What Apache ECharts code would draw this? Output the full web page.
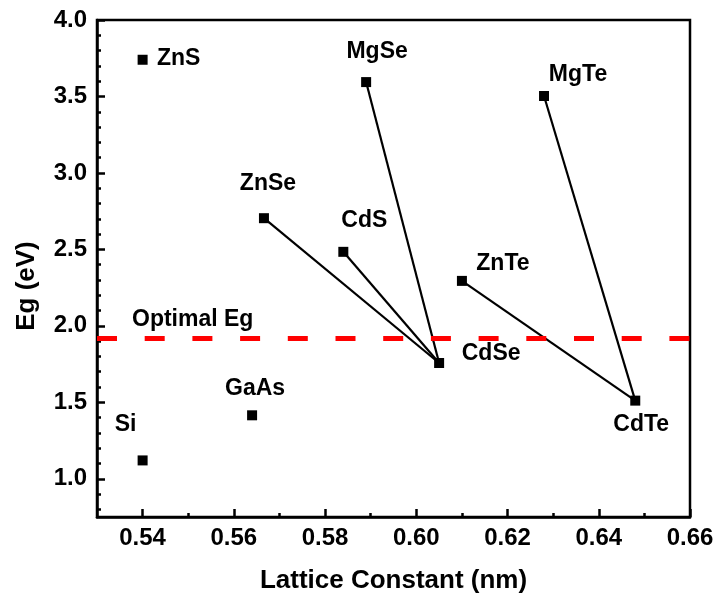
<!DOCTYPE html>
<html><head><meta charset="utf-8">
<script src="https://cdn.jsdelivr.net/npm/echarts@6/dist/echarts.min.js"></script>
<style>html,body{margin:0;padding:0;background:#fff}#c{width:717px;height:601px}</style>
</head><body><div id="c"></div>
<script>
// ---- data ----
const materials = ['ZnS', 'Si', 'GaAs', 'MgSe', 'ZnSe', 'CdS', 'CdSe', 'ZnTe', 'CdTe', 'MgTe'];
const latticeConstants = [0.540, 0.540, 0.564, 0.589, 0.5666, 0.584, 0.605, 0.610, 0.648, 0.628];
const bandGaps = [3.74, 1.12, 1.415, 3.594, 2.704, 2.484, 1.757, 2.294, 1.511, 3.503];
const tieLines = [['ZnSe', 'CdSe'], ['CdS', 'CdSe'], ['MgSe', 'CdSe'], ['ZnTe', 'CdTe'], ['MgTe', 'CdTe']];
const optimalEg = 1.917;
const optimalLabel = 'Optimal Eg';
const xMajorTicks = [0.54, 0.56, 0.58, 0.60, 0.62, 0.64, 0.66];
const xMinorTicks = [0.55, 0.57, 0.59, 0.61, 0.63, 0.65];
const yMajorTicks = [1.0, 1.5, 2.0, 2.5, 3.0, 3.5, 4.0];
const yMinorTicks = [0.8, 0.9, 1.1, 1.2, 1.3, 1.4, 1.6, 1.7, 1.8, 1.9, 2.1, 2.2, 2.3, 2.4, 2.6, 2.7, 2.8, 2.9, 3.1, 3.2, 3.3, 3.4, 3.6, 3.7, 3.8, 3.9];
const xTitle = 'Lattice Constant (nm)';
const yTitle = 'Eg (eV)';

// ---- style (label placement relative to marker) ----
const labelOffsets = {
  ZnS: [36, -1], Si: [-17, -36], GaAs: [3, -27], MgSe: [11, -30], ZnSe: [4, -35],
  CdS: [21, -31], CdSe: [52, -9], ZnTe: [41, -17], CdTe: [6, 24], MgTe: [34, -21]
};
const FONT = '"Liberation Sans", Arial, sans-serif';
const X_MIN = 0.53, X_MAX = 0.66, Y_MIN = 0.75, Y_MAX = 4.0;

const idx = n => materials.indexOf(n);
const pointData = materials.map((n, i) => ({
  name: n,
  value: [latticeConstants[i], bandGaps[i]],
  label: { offset: labelOffsets[n] }
}));

const lineSeries = tieLines.map(([a, b]) => ({
  type: 'line',
  xAxisIndex: 0, yAxisIndex: 0,
  data: [[latticeConstants[idx(a)], bandGaps[idx(a)]], [latticeConstants[idx(b)], bandGaps[idx(b)]]],
  symbol: 'none',
  lineStyle: { color: '#000', width: 2.2, opacity: 1 },
  z: 3,
  silent: true,
  animation: false
}));

const chart = echarts.init(document.getElementById('c'), null, { renderer: 'canvas' });
chart.setOption({
  animation: false,
  backgroundColor: '#fff',
  textStyle: { fontFamily: FONT },
  grid: { left: 97, right: 27, top: 20, bottom: 84, show: true, borderColor: '#000', borderWidth: 2.5, containLabel: false },
  xAxis: [{
    type: 'value', min: X_MIN, max: X_MAX, position: 'bottom',
    name: xTitle, nameLocation: 'middle', nameGap: 51,
    nameTextStyle: { fontSize: 26, fontWeight: 'bold', color: '#000', fontFamily: FONT },
    axisLine: { show: true, onZero: false, lineStyle: { color: '#000', width: 2.5 } },
    axisTick: { show: true, inside: true, length: 8, customValues: xMajorTicks, lineStyle: { color: '#000', width: 2.5 } },
    axisLabel: { show: true, customValues: xMajorTicks, margin: 9, fontSize: 24, fontWeight: 'bold', color: '#000', fontFamily: FONT,
      formatter: v => v.toFixed(2) },
    splitLine: { show: false }
  }, {
    type: 'value', min: X_MIN, max: X_MAX, position: 'bottom',
    axisLine: { show: false, onZero: false },
    axisTick: { show: true, inside: true, length: 4, customValues: xMinorTicks, lineStyle: { color: '#000', width: 2.5 } },
    axisLabel: { show: false },
    splitLine: { show: false }
  }],
  yAxis: [{
    type: 'value', min: Y_MIN, max: Y_MAX, position: 'left',
    name: yTitle, nameLocation: 'middle', nameGap: 57,
    nameTextStyle: { fontSize: 26, fontWeight: 'bold', color: '#000', fontFamily: FONT, padding: [0, 35, 0, 0] },
    axisLine: { show: true, onZero: false, lineStyle: { color: '#000', width: 2.5 } },
    axisTick: { show: true, inside: true, length: 8, customValues: yMajorTicks, lineStyle: { color: '#000', width: 2.5 } },
    axisLabel: { show: true, customValues: yMajorTicks, margin: 10, fontSize: 24, fontWeight: 'bold', color: '#000', fontFamily: FONT,
      formatter: v => v.toFixed(1) },
    splitLine: { show: false }
  }, {
    type: 'value', min: Y_MIN, max: Y_MAX, position: 'left',
    axisLine: { show: false, onZero: false },
    axisTick: { show: true, inside: true, length: 4, customValues: yMinorTicks, lineStyle: { color: '#000', width: 2.5 } },
    axisLabel: { show: false },
    splitLine: { show: false }
  }],
  series: [
    ...lineSeries,
    {
      type: 'scatter',
      xAxisIndex: 0, yAxisIndex: 0,
      symbol: 'rect',
      symbolSize: 10,
      itemStyle: { color: '#000', opacity: 1 },
      z: 5,
      data: pointData,
      label: {
        show: true, position: 'inside', formatter: '{b}',
        align: 'center', verticalAlign: 'middle', opacity: 1,
        color: '#000', fontSize: 23, fontWeight: 'bold', fontFamily: FONT
      },
      markLine: {
        silent: true,
        symbol: ['none', 'none'],
        animation: false,
        data: [{ yAxis: optimalEg }],
        lineStyle: { color: '#ff0000', width: 5, type: [20, 27.7], opacity: 1 },
        label: {
          show: true, formatter: optimalLabel, position: 'insideStartTop',
          distance: [35, 7],
          color: '#000', fontSize: 23, fontWeight: 'bold', fontFamily: FONT
        },
        emphasis: { disabled: true }
      }
    }
  ]
});
</script>
</body></html>
